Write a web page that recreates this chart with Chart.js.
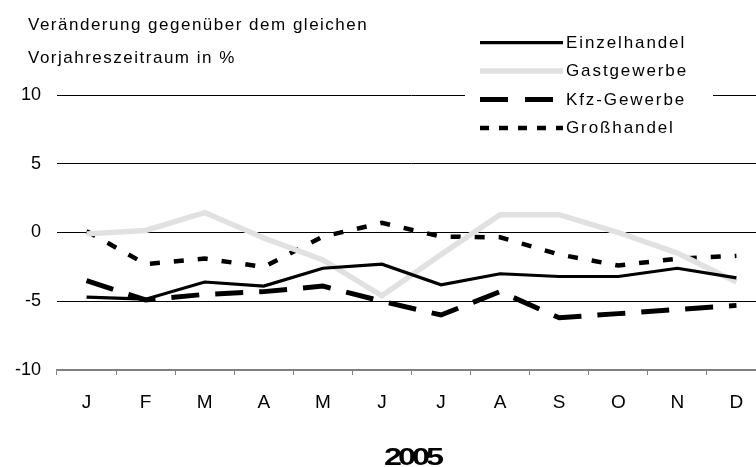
<!DOCTYPE html>
<html>
<head>
<meta charset="utf-8">
<script src="https://cdn.jsdelivr.net/npm/chart.js@4.4.1/dist/chart.umd.min.js"></script>
<style>
body{margin:0;overflow:hidden;background:#fff}
</style>
</head>
<body>
<canvas id="myChart" width="770" height="467"></canvas>
<script>
// data (% change vs. same period of previous year)
const months=["J","F","M","A","M","J","J","A","S","O","N","D"]
const einzelhandel=[-4.7,-4.85,-3.6,-3.9,-2.6,-2.3,-3.8,-3.0,-3.2,-3.2,-2.6,-3.3]
const gastgewerbe=[-0.1,0.15,1.45,-0.4,-2.0,-4.6,-1.6,1.3,1.3,0.0,-1.5,-3.6]
const kfzGewerbe=[-3.5,-4.9,-4.5,-4.3,-3.9,-5.0,-6.0,-4.3,-6.2,-5.9,-5.6,-5.3]
const grosshandel=[0.1,-2.3,-1.9,-2.5,-0.3,0.7,-0.3,-0.35,-1.6,-2.4,-1.9,-1.7]
const yMin=-10
const yMax=10
const yStep=5
const yearLabel="2005"
const titleLines=["Veränderung gegenüber dem gleichen","Vorjahreszeitraum in %"]

const FONT='"Liberation Sans", Arial, sans-serif'

// title, legend box and year label
const extras={
  id:'extras',
  afterDraw(chart){
    const c=chart.ctx
    c.save()
    c.fillStyle='#fff'
    c.fillRect(465,28,248,114)
    c.font='17px '+FONT
    c.textBaseline='alphabetic'
    chart.data.datasets.forEach((ds,i)=>{
      const y=42.7+i*28.4
      c.beginPath()
      c.setLineDash(ds.legendDash||[])
      c.lineWidth=ds.borderWidth
      c.strokeStyle=ds.borderColor
      c.lineCap='butt'
      c.moveTo(480,y)
      c.lineTo(563,y)
      c.stroke()
      c.setLineDash([])
      c.fillStyle='#000'
      c.letterSpacing='1.9px'
      c.fillText(ds.label,566,y+5)
    })
    c.letterSpacing='1.5px'
    c.fillStyle='#000'
    c.fillText(titleLines[0],28,29.5)
    c.fillText(titleLines[1],28,62.5)
    // the year is set in a squashed, heavy style
    c.letterSpacing='-3px'
    c.font='bold 24px '+FONT
    c.textAlign='center'
    c.translate(412,465)
    c.scale(1.35,1)
    c.fillText(yearLabel,0,0)
    c.restore()
  }
}

new Chart(document.getElementById('myChart'),{
  type:'line',
  data:{
    labels:months,
    datasets:[{
      label:'Einzelhandel',
      data:einzelhandel,
      borderColor:'#000',
      borderWidth:3.2,
      borderDash:[]
    },{
      label:'Gastgewerbe',
      data:gastgewerbe,
      borderColor:'#e1e1e1',
      borderWidth:5.5,
      borderDash:[]
    },{
      label:'Kfz-Gewerbe',
      data:kfzGewerbe,
      borderColor:'#000',
      borderWidth:5,
      borderDash:[28,16],
      legendDash:[28,17]
    },{
      label:'Großhandel',
      data:grosshandel,
      borderColor:'#000',
      borderWidth:4.5,
      borderDash:[10,14],
      legendDash:[9,10]
    }]
  },
  options:{
    responsive:false,
    devicePixelRatio:1,
    animation:false,
    layout:{padding:{top:95,right:4,left:0,bottom:0}},
    elements:{point:{radius:0},line:{tension:0,fill:false}},
    plugins:{legend:{display:false},tooltip:{enabled:false}},
    scales:{
      x:{
        offset:true,
        grid:{offset:true,drawOnChartArea:false,drawTicks:true,tickLength:5,color:'#808080'},
        border:{display:true,color:'#808080',width:1.5},
        ticks:{color:'#000',font:{family:FONT,size:19},padding:16,maxRotation:0},
        afterFit(s){s.height=97}
      },
      y:{
        min:yMin,max:yMax,
        ticks:{stepSize:yStep,color:'#000',font:{family:FONT,size:18},padding:16},
        grid:{drawTicks:false,color:c=>c.tick&&c.tick.value===yMin?'#808080':'#000'},
        border:{display:false},
        afterFit(s){s.width=57}
      }
    }
  },
  plugins:[extras]
})
</script>
</body>
</html>
